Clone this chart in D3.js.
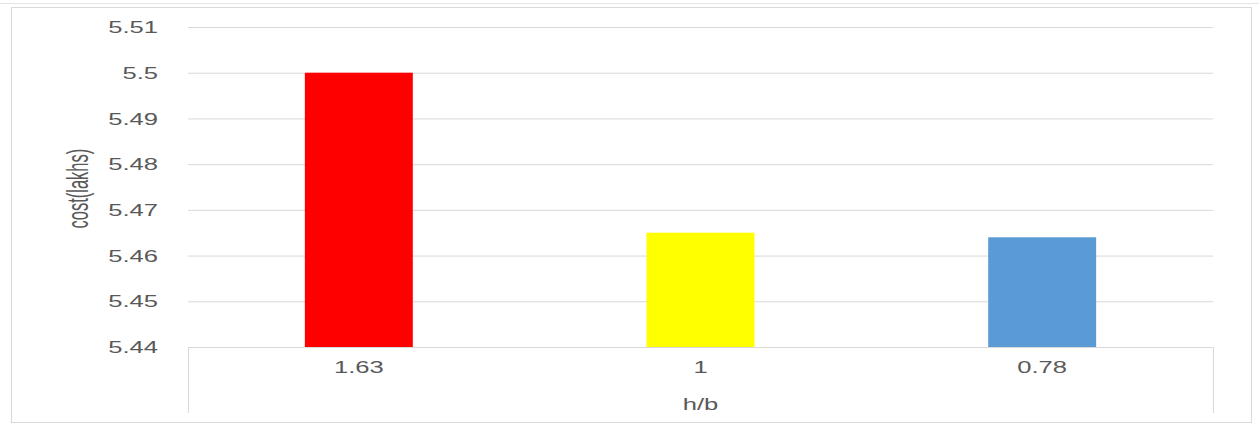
<!DOCTYPE html>
<head>
<meta charset="utf-8">
<title>cost vs h/b</title>
<script src="https://d3js.org/d3.v7.min.js"></script>
<style>
  body { margin: 0; background: #fff; }
  svg text { font-family: "Liberation Sans", Arial, sans-serif; fill: #595959; }
</style>
</head>
<body>
<div id="container"></div>
<script>
//--------------------------- DATA ------------------------------//
const categories = ["1.63", "1", "0.78"];
const costs = [5.50, 5.465, 5.464];
const barColors = ["#ff0000", "#ffff00", "#5b9bd5"];
const yTicks = [5.44, 5.45, 5.46, 5.47, 5.48, 5.49, 5.50, 5.51];
const yTickLabels = ["5.44", "5.45", "5.46", "5.47", "5.48", "5.49", "5.5", "5.51"];
const groupLabel = "h/b";
const yTitle = "cost(lakhs)";

//--------------------------- SVG -------------------------------//
const W = 1259, H = 427;
const margin = {top: 27, right: 46, bottom: 80, left: 188},
    width = W - margin.left - margin.right,
    height = H - margin.top - margin.bottom;
const stretch = 1.6; // the reference text is widened horizontally

const svg = d3.select("#container").append("svg")
    .attr("width", W)
    .attr("height", H);

// faint sheet line and chart border
svg.append("line")
    .attr("x1", 0).attr("x2", W).attr("y1", 3.5).attr("y2", 3.5)
    .attr("stroke", "#e4e4e4");
svg.append("rect")
    .attr("x", 11.5).attr("y", 7.5)
    .attr("width", 1240).attr("height", 415)
    .attr("fill", "#fff")
    .attr("stroke", "#d9d9d9");

const g = svg.append("g")
    .attr("transform", "translate(" + margin.left + "," + margin.top + ")");

//--------------------------- SCALES ----------------------------//
const x = d3.scaleBand()
    .domain(categories)
    .range([0, width])
    .paddingInner(0.684)
    .paddingOuter(0.342);

const y = d3.scaleLinear()
    .domain([5.44, 5.51])
    .range([height, 0]);

//--------------------------- AXES ------------------------------//
const yAxis = d3.axisLeft(y)
    .tickValues(yTicks)
    .tickSize(-width)
    .tickPadding(0)
    .tickFormat((d, i) => yTickLabels[i]);

g.append("g")
    .attr("class", "y axis")
    .call(yAxis)
    .call(s => s.select(".domain").remove())
    .call(s => s.selectAll(".tick line").attr("stroke", "#d9d9d9"))
    .call(s => s.selectAll(".tick text")
        .attr("x", -30 / stretch)
        .attr("dy", "0.35em")
        .attr("transform", "scale(" + stretch + ",1)")
        .style("font-size", "16px")
        .style("text-anchor", "end"));

const xAxis = d3.axisBottom(x)
    .tickSize(0)
    .tickPadding(15);

g.append("g")
    .attr("class", "x axis")
    .attr("transform", "translate(0," + height + ")")
    .call(xAxis)
    .call(s => s.select(".domain").remove())
    .call(s => s.selectAll(".tick text")
        .attr("transform", "scale(" + stretch + ",1)")
        .style("font-size", "16px"));

// category group boundaries
[0, width].forEach(px => {
    g.append("line")
        .attr("x1", px + 0.5).attr("x2", px + 0.5)
        .attr("y1", height).attr("y2", height + 66)
        .attr("stroke", "#d9d9d9");
});

g.append("text")
    .attr("transform", "translate(" + (width / 2) + "," + (height + 57) + ") scale(" + stretch + ",1)")
    .attr("dy", "0.35em")
    .style("text-anchor", "middle")
    .style("font-size", "16px")
    .text(groupLabel);

svg.append("text")
    .attr("transform", "translate(78," + (margin.top + height * 0.505) + ") scale(1.75,1) rotate(-90)")
    .attr("dy", "0.35em")
    .style("text-anchor", "middle")
    .style("font-size", "16.5px")
    .text(yTitle);

//--------------------------- BARS ------------------------------//
g.selectAll(".bar")
    .data(categories)
    .enter().append("rect")
    .attr("class", "bar")
    .attr("x", d => x(d))
    .attr("width", x.bandwidth())
    .attr("y", (d, i) => y(costs[i]))
    .attr("height", (d, i) => height - y(costs[i]))
    .attr("fill", (d, i) => barColors[i]);
</script>
</body>
